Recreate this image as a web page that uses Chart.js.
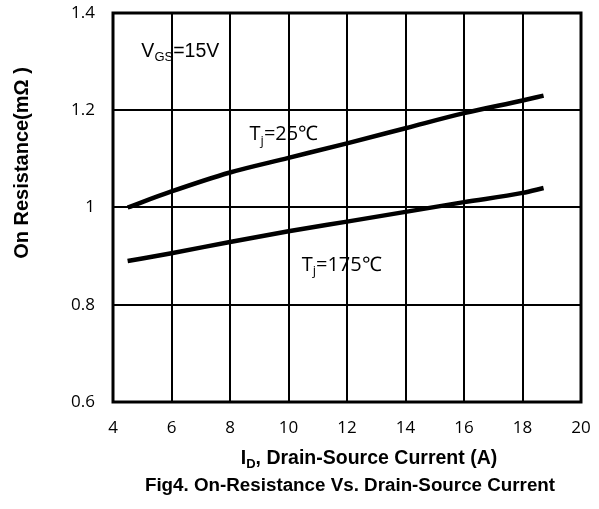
<!DOCTYPE html>
<html>
<head>
<meta charset="utf-8">
<script src="https://cdn.jsdelivr.net/npm/chart.js@4/dist/chart.umd.min.js"></script>
<style>
  html, body { margin: 0; padding: 0; background: #fff; }
  #wrap { width: 599px; height: 509px; }
</style>
</head>
<body>
<div id="wrap"><canvas id="rdsChart" width="599" height="509"></canvas></div>
<script>
// ---------------- donnees ----------------
const current25 = [4.5, 6, 8, 10, 12, 14, 16, 18, 18.72];
const rds25 = [1.0, 1.033, 1.072, 1.102, 1.132, 1.163, 1.194, 1.220, 1.230];
const current175 = [4.5, 6, 8, 10, 12, 14, 16, 18, 18.72];
const rds175 = [0.890, 0.906, 0.929, 0.951, 0.971, 0.991, 1.011, 1.030, 1.040];

const xTicks = [4, 6, 8, 10, 12, 14, 16, 18, 20];
const yTicks = [0.6, 0.8, 1.0, 1.2, 1.4];

const toPoints = (xs, ys) => xs.map((x, i) => ({ x: x, y: ys[i] }));

// texte avec indices (V_GS, T_j, I_D)
function drawParts(ctx, parts, x, y, size, family, weight) {
    let cx = x;
    parts.forEach(p => {
        const s = p.sub ? Math.round(size * 0.65) : size;
        ctx.font = `${weight} ${s}px ${family}`;
        ctx.fillText(p.t, cx, p.sub ? y + size * 0.22 : y);
        cx += ctx.measureText(p.t).width;
    });
    return cx - x;
}
function measureParts(ctx, parts, size, family, weight) {
    let w = 0;
    parts.forEach(p => {
        const s = p.sub ? Math.round(size * 0.65) : size;
        ctx.font = `${weight} ${s}px ${family}`;
        w += ctx.measureText(p.t).width;
    });
    return w;
}

const decorPlugin = {
    id: 'decor',
    beforeDraw(chart) {
        const ctx = chart.ctx;
        const xs = chart.scales.x, ys = chart.scales.y;
        ctx.save();
        ctx.fillStyle = '#fff';
        ctx.fillRect(0, 0, chart.width, chart.height);
        ctx.fillStyle = '#000';
        ctx.textBaseline = 'alphabetic';
        ctx.textAlign = 'left';
        // annotations dans la zone du graphe (sous la grille)
        drawParts(ctx, [{ t: 'V' }, { t: 'GS', sub: true }, { t: '=15V' }],
            xs.getPixelForValue(4.97), ys.getPixelForValue(1.31), 19.5, '"Liberation Sans", Arial', 'normal');
        drawParts(ctx, [{ t: 'T' }, { t: 'j', sub: true }, { t: '=25℃' }],
            xs.getPixelForValue(8.67), ys.getPixelForValue(1.138), 20, '"Open Sans"', 'normal');
        drawParts(ctx, [{ t: 'T' }, { t: 'j', sub: true }, { t: '=175℃' }],
            xs.getPixelForValue(10.45), ys.getPixelForValue(0.870), 20, '"Open Sans"', 'normal');
        ctx.restore();
    },
    afterDraw(chart) {
        const ctx = chart.ctx;
        const a = chart.chartArea;
        ctx.save();
        // cadre
        ctx.strokeStyle = '#000';
        ctx.lineWidth = 3;
        ctx.strokeRect(a.left, a.top, a.right - a.left, a.bottom - a.top);

        ctx.fillStyle = '#000';
        ctx.textBaseline = 'alphabetic';
        ctx.textAlign = 'left';
        // titre axe X
        const xParts = [{ t: 'I' }, { t: 'D', sub: true }, { t: ', Drain-Source Current (A)' }];
        const fam = '"Liberation Sans", Arial';
        const wX = measureParts(ctx, xParts, 19.5, fam, 'bold');
        drawParts(ctx, xParts, 369 - wX / 2, 464, 19.5, fam, 'bold');
        // legende de la figure
        ctx.font = `bold 18.8px ${fam}`;
        ctx.textAlign = 'center';
        ctx.fillText('Fig4. On-Resistance Vs. Drain-Source Current', 350, 491);
        // titre axe Y
        ctx.translate(22, 163);
        ctx.rotate(-Math.PI / 2);
        ctx.textBaseline = 'middle';
        ctx.font = `bold 20px ${fam}`;
        ctx.fillText('On Resistance(mΩ )', 0, 0);
        ctx.restore();
    }
};

new Chart(document.getElementById('rdsChart'), {
    type: 'line',
    data: {
        datasets: [
            {
                label: 'Tj=25°C',
                data: toPoints(current25, rds25),
                borderColor: '#000',
                borderWidth: 4.5,
                pointRadius: 0,
                cubicInterpolationMode: 'monotone',
                fill: false
            },
            {
                label: 'Tj=175°C',
                data: toPoints(current175, rds175),
                borderColor: '#000',
                borderWidth: 4.5,
                pointRadius: 0,
                cubicInterpolationMode: 'monotone',
                fill: false
            }
        ]
    },
    options: {
        responsive: false,
        animation: false,
        layout: { padding: { top: 13, right: 18, left: 0, bottom: 0 } },
        plugins: {
            legend: { display: false },
            tooltip: { enabled: false }
        },
        scales: {
            x: {
                type: 'linear',
                min: xTicks[0],
                max: xTicks[xTicks.length - 1],
                afterBuildTicks: axis => { axis.ticks = xTicks.map(v => ({ value: v })); },
                afterFit: axis => {
                    axis.height = 107;
                    axis.paddingLeft = 0;
                    axis.paddingRight = 0;
                },
                grid: { color: '#000', lineWidth: 2, drawTicks: false },
                border: { display: false },
                ticks: {
                    color: '#000',
                    padding: 16,
                    font: { family: '"Open Sans"', size: 17 },
                    maxRotation: 0
                }
            },
            y: {
                type: 'linear',
                min: yTicks[0],
                max: yTicks[yTicks.length - 1],
                afterBuildTicks: axis => { axis.ticks = yTicks.map(v => ({ value: v })); },
                afterFit: axis => {
                    axis.width = 113;
                    axis.paddingTop = 0;
                    axis.paddingBottom = 0;
                },
                grid: { color: '#000', lineWidth: 2, drawTicks: false },
                border: { display: false },
                ticks: {
                    color: '#000',
                    padding: 18,
                    font: { family: '"Open Sans"', size: 17 },
                    callback: v => String(Math.round(v * 10) / 10)
                }
            }
        }
    },
    plugins: [decorPlugin]
});
</script>
</body>
</html>
